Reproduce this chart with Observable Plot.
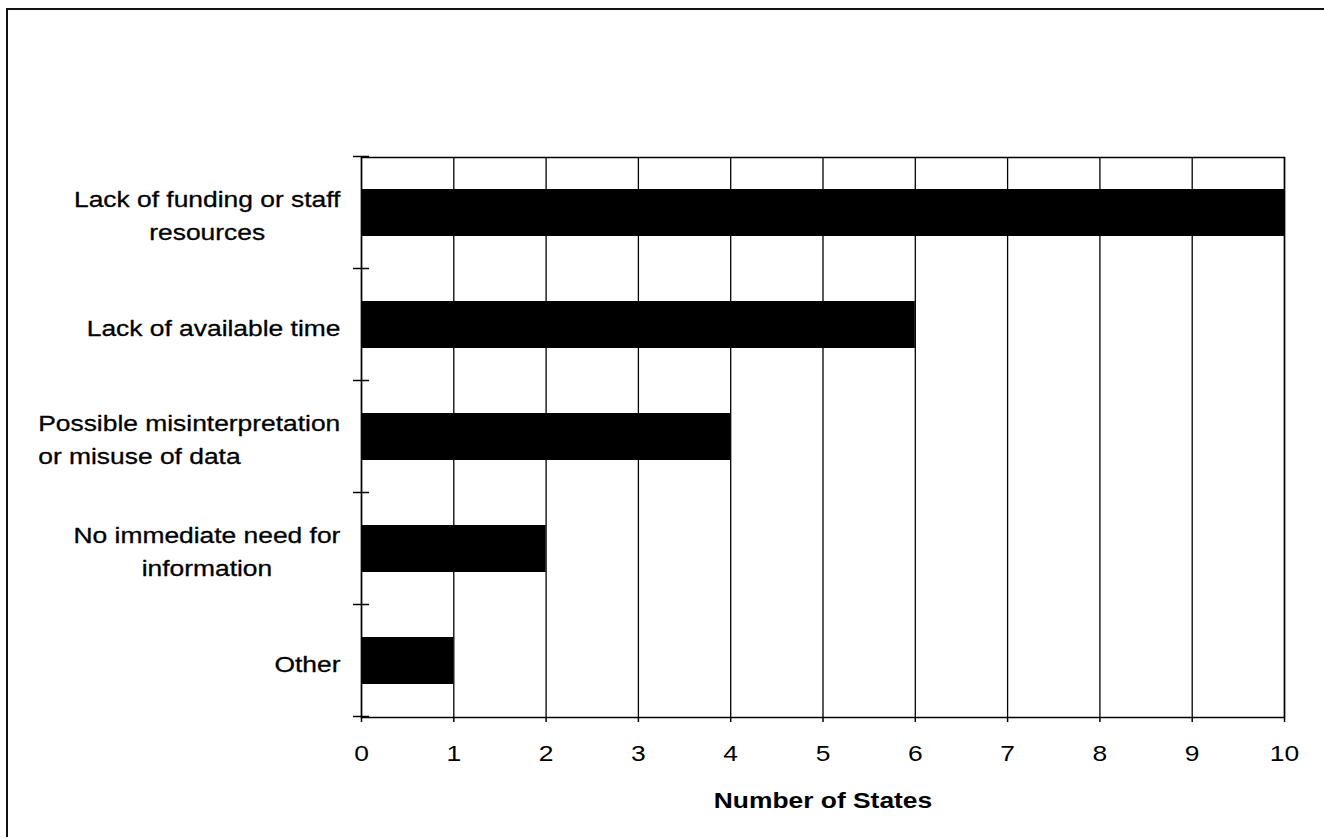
<!DOCTYPE html>
<html>
<head>
<meta charset="utf-8">
<script src="https://cdn.jsdelivr.net/npm/d3@7"></script>
<script src="https://cdn.jsdelivr.net/npm/@observablehq/plot@0.6"></script>
<style>
  html, body { margin: 0; padding: 0; background: #fff; }
  #wrap { position: relative; width: 1324px; height: 839px; overflow: hidden; }
  #frame { position: absolute; left: 6px; top: 8px; width: 1330px; height: 829px;
           border-left: 2px solid #111; border-top: 2px solid #111; box-sizing: border-box; }
  #chart { position: absolute; left: 0; top: 0; }
</style>
</head>
<body>
<div id="wrap"><div id="chart"></div><div id="frame"></div></div>
<script>
// ---- data ----
const categories = [
  "Lack of funding or staff\nresources",
  "Lack of available time",
  "Possible misinterpretation\nor misuse of data",
  "No immediate need for\ninformation",
  "Other"
];
const counts = [10, 6, 4, 2, 1];
const xTicks = [0, 1, 2, 3, 4, 5, 6, 7, 8, 9, 10];
const xTitle = "Number of States";

const data = categories.map((c, i) => ({category: c, count: counts[i]}));

// ---- styling ----
const FONT = "'Liberation Sans', Arial, sans-serif";
const FONT_SIZE = 22;
const STRETCH = 1.2;          // reference typeface is horizontally wide
const LABEL_PAD = 21;         // gap between label block and axis
const lineAlign = ["middle", "middle", "start", "middle", "middle"]; // wrapped-line alignment per label

const ctx = document.createElement("canvas").getContext("2d");
ctx.font = `${FONT_SIZE}px 'Liberation Sans', Arial, sans-serif`;
const blockWidth = label => d3.max(label.split("\n"), s => ctx.measureText(s).width) * STRETCH;

const labelMarks = categories.map((c, i) => {
  const w = blockWidth(c);
  const align = lineAlign[i];
  return Plot.text([c], {
    x: () => 0, y: d => d,
    textAnchor: align,
    dx: align === "middle" ? -(LABEL_PAD + w / 2) : -(LABEL_PAD + w),
    lineAnchor: "middle", lineHeight: 1.5,
    fontSize: FONT_SIZE, fill: "#000", stroke: "#000", strokeWidth: 0.3
  });
});

// ticks at the category boundaries on the left axis, derived from the band scale
function boundaryTicks(index, scales) {
  const {x, y} = scales;
  const g = d3.create("svg:g");
  const y0 = y(categories[0]);
  const step = y(categories[1]) - y0;
  const bw = y.bandwidth ? y.bandwidth() : 0;
  const gap = (step - bw) / 2;
  const bounds = categories.map(c => y(c) - gap);
  bounds.push(y(categories[categories.length - 1]) + bw + gap);
  const x0 = x(0);
  for (const b of bounds) {
    g.append("line")
      .attr("x1", x0 - 8).attr("x2", x0 + 8)
      .attr("y1", b).attr("y2", b)
      .attr("stroke", "#000").attr("stroke-width", 1.5);
  }
  return g.node();
}

const chart = Plot.plot({
  width: 1324,
  height: 839,
  marginLeft: 361,
  marginRight: 40,
  marginTop: 157,
  marginBottom: 122,
  style: {fontFamily: FONT, fontSize: FONT_SIZE + "px", color: "#000", background: "transparent"},
  x: {domain: [0, 10], label: null},
  y: {domain: categories, paddingInner: 0.58, paddingOuter: 0.29, label: null, axis: null},
  marks: [
    Plot.gridX(xTicks, {stroke: "#000", strokeOpacity: 1, strokeWidth: 1.3}),
    Plot.barX(data, {x: "count", y: "category", fill: "#000"}),
    Plot.frame({stroke: "#000", strokeWidth: 1.5}),
    Plot.axisX({ticks: xTicks, tickSize: 5, tickPadding: 23, tickFormat: d => String(d),
                stroke: "#000", strokeWidth: 1.5, fontSize: FONT_SIZE, label: null}),
    ...labelMarks,
    Plot.text([xTitle], {frameAnchor: "bottom", dy: 90, fontSize: FONT_SIZE, fontWeight: "bold", fill: "#000"}),
    boundaryTicks
  ]
});

// stretch text horizontally around its anchor
chart.querySelectorAll("text").forEach(t => {
  const tr = t.getAttribute("transform") || "";
  t.setAttribute("transform", (tr + ` scale(${STRETCH},1)`).trim());
});

document.getElementById("chart").appendChild(chart);
</script>
</body>
</html>
